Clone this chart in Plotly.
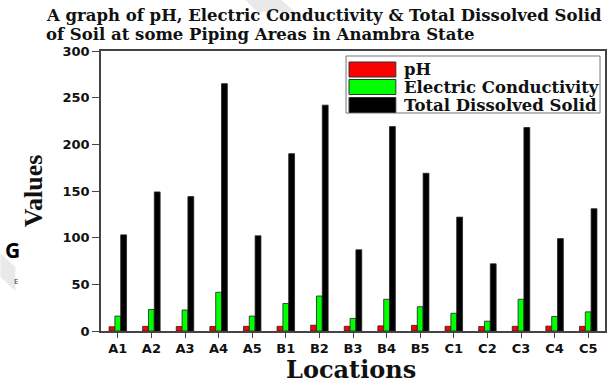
import plotly.graph_objects as go

locations = ["A1", "A2", "A3", "A4", "A5", "B1", "B2", "B3", "B4", "B5",
             "C1", "C2", "C3", "C4", "C5"]
ph = [4.5, 5.0, 4.8, 4.8, 5.0, 5.0, 6.2, 5.0, 5.5, 6.0, 5.0, 4.8, 5.0, 5.2, 5.0]
conductivity = [16, 23, 22.5, 41.5, 16, 29.5, 37.5, 13.5, 34, 26, 19, 10.5, 34, 15.5, 20.5]
dissolved_solid = [103, 149, 144, 265, 102, 190, 242, 87, 219, 169, 122, 72, 218, 99, 131]
series_names = ["pH", "Electric Conductivity", "Total Dissolved Solid"]
series_colors = ["#ff0000", "#00ff00", "#000000"]
title_lines = ["A graph of pH, Electric Conductivity &amp; Total Dissolved Solid",
               "of Soil at some Piping Areas in Anambra State"]

W, H = 610, 384
L, R, T, B = 101, 3, 51, 53
PW, PH = W - L - R, H - T - B


def px_x(x):
    return (x - L) / PW


def px_y(y):
    return (H - B - y) / PH


fig = go.Figure()
for name, vals, col in zip(series_names, [ph, conductivity, dissolved_solid], series_colors):
    fig.add_bar(x=locations, y=vals, name=name, marker_color=col,
                marker_line=dict(color="#222", width=0.8), showlegend=False)

serif = "DejaVu Serif, serif"
tall_serif = "Liberation Serif, Times New Roman, serif"
sans = "DejaVu Sans, sans-serif"

fig.update_layout(
    width=W, height=H,
    margin=dict(l=L, r=R, t=T, b=B),
    paper_bgcolor="white", plot_bgcolor="white",
    barmode="group", bargap=0.48, bargroupgap=0,
    font=dict(family=sans, color="#111"),
    xaxis=dict(
        showline=True, linecolor="#444", linewidth=1.6, mirror=True,
        ticks="outside", ticklen=5, tickcolor="#444",
        tickfont=dict(family=sans, size=13, color="#111", weight="bold"),
    ),
    yaxis=dict(
        range=[0, 300], dtick=50,
        showline=True, linecolor="#444", linewidth=1.6, mirror=True,
        showgrid=False, zeroline=False,
        ticks="outside", ticklen=7, tickcolor="#444",
        tickfont=dict(family=sans, size=13, color="#111", weight="bold"),
        title=dict(text="<b>Values</b>", font=dict(family=tall_serif, size=26, color="#111"), standoff=12),
    ),
)

shapes = []
# faint diagonal watermark fragments in the margins
for pts in ["M 0 253 L 15 267 L 15 291 L 0 277 Z", "M 246 0 L 282 0 L 296 12 L 258 12 Z"]:
    coords = pts.split()
    path = []
    i = 0
    while i < len(coords):
        tok = coords[i]
        if tok in ("M", "L"):
            path.append(f"{tok} {px_x(float(coords[i + 1]))} {px_y(float(coords[i + 2]))}")
            i += 3
        else:
            path.append(tok)
            i += 1
    shapes.append(dict(type="path", xref="paper", yref="paper", path=" ".join(path),
                       fillcolor="#e9e9e9", line=dict(width=0), layer="below"))

# Legend drawn as a framed box with wide colour swatches
shapes.append(dict(type="rect", xref="paper", yref="paper",
                   x0=px_x(347), x1=px_x(602), y0=px_y(113), y1=px_y(56),
                   line=dict(color="#777", width=1), fillcolor="white"))
annotations = []
rows = [(62, 77), (79.5, 94.5), (97.5, 112.5)]
for (y0, y1), name, col in zip(rows, series_names, series_colors):
    shapes.append(dict(type="rect", xref="paper", yref="paper",
                       x0=px_x(350), x1=px_x(397), y0=px_y(y1), y1=px_y(y0),
                       line=dict(color="#333", width=1), fillcolor=col))
    annotations.append(dict(xref="paper", yref="paper", x=px_x(403), y=px_y((y0 + y1) / 2),
                            xanchor="left", yanchor="middle", showarrow=False,
                            text=f"<b>{name}</b>", font=dict(family=serif, size=16.5, color="#111")))

# two-line title, each line placed on its own
for line, yc in zip(title_lines, [15, 34.5]):
    annotations.append(dict(xref="paper", yref="paper", x=px_x(44), y=px_y(yc),
                            xanchor="left", yanchor="middle", showarrow=False, align="left",
                            text=f"<b>{line}</b>",
                            font=dict(family=serif, size=16.5, color="#111")))
# x-axis title
annotations.append(dict(xref="paper", yref="paper", x=px_x(352), y=px_y(369.5),
                        xanchor="center", yanchor="middle", showarrow=False,
                        text="<b>Locations</b>", font=dict(family=serif, size=24, color="#111")))
annotations.append(dict(xref="paper", yref="paper", x=px_x(12), y=px_y(250),
                        xanchor="center", yanchor="middle", showarrow=False,
                        text="<b>G</b>", font=dict(family="Open Sans, sans-serif", size=21, color="#000")))
annotations.append(dict(xref="paper", yref="paper", x=px_x(16), y=px_y(280),
                        xanchor="center", yanchor="middle", showarrow=False,
                        text="E", font=dict(family="Open Sans, sans-serif", size=8, color="#333")))

fig.update_layout(shapes=shapes, annotations=annotations)
fig.write_html("out.html")
